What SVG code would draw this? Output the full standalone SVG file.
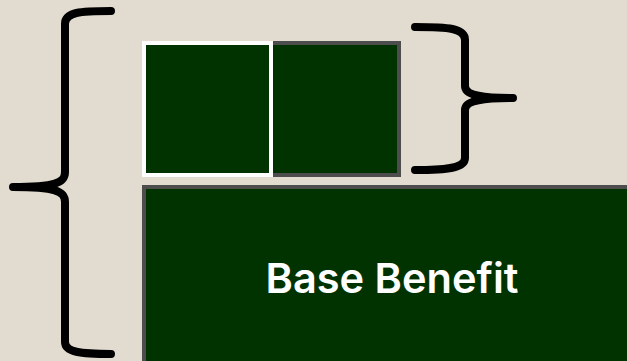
<svg xmlns="http://www.w3.org/2000/svg" width="627" height="361" viewBox="0 0 627 361">
  <style>
    .box { fill: #003300; stroke-width: 4; }
    .brace { fill: none; stroke: #000000; stroke-width: 8; stroke-linecap: round; stroke-linejoin: round; }
    .label { font-family: Inter, "Liberation Sans", Arial, sans-serif; font-weight: 600; font-size: 41px; fill: #ffffff; text-anchor: middle; }
  </style>
  <rect x="0" y="0" width="627" height="361" fill="#E2DBCF"/>
  <g id="connectors">
    <path id="brace-left" class="brace" d="M111,11 C80,11 65,12 65,24 L65,172 C65,183 55,187 13,187 C55,187 65,191 65,202 L65,342 C65,352 80,354 111,354"/>
    <path id="brace-right" class="brace" d="M415,27 C448,27 465,28 465,40 L465,86 C465,95 480,98 513,98 C480,98 465,101 465,110 L465,158 C465,168 448,170 415,170"/>
  </g>
  <g id="node-top-right">
    <rect class="box" x="271" y="43" width="128" height="132" stroke="#4D4D4D"/>
  </g>
  <g id="node-top-left">
    <rect class="box" x="144" y="43" width="127" height="132" stroke="#FFFFFF"/>
  </g>
  <g id="node-base">
    <rect class="box" x="144" y="187" width="500" height="200" stroke="#4D4D4D"/>
    <text class="label" x="392" y="293" textLength="253" lengthAdjust="spacingAndGlyphs">Base Benefit</text>
  </g>
</svg>
